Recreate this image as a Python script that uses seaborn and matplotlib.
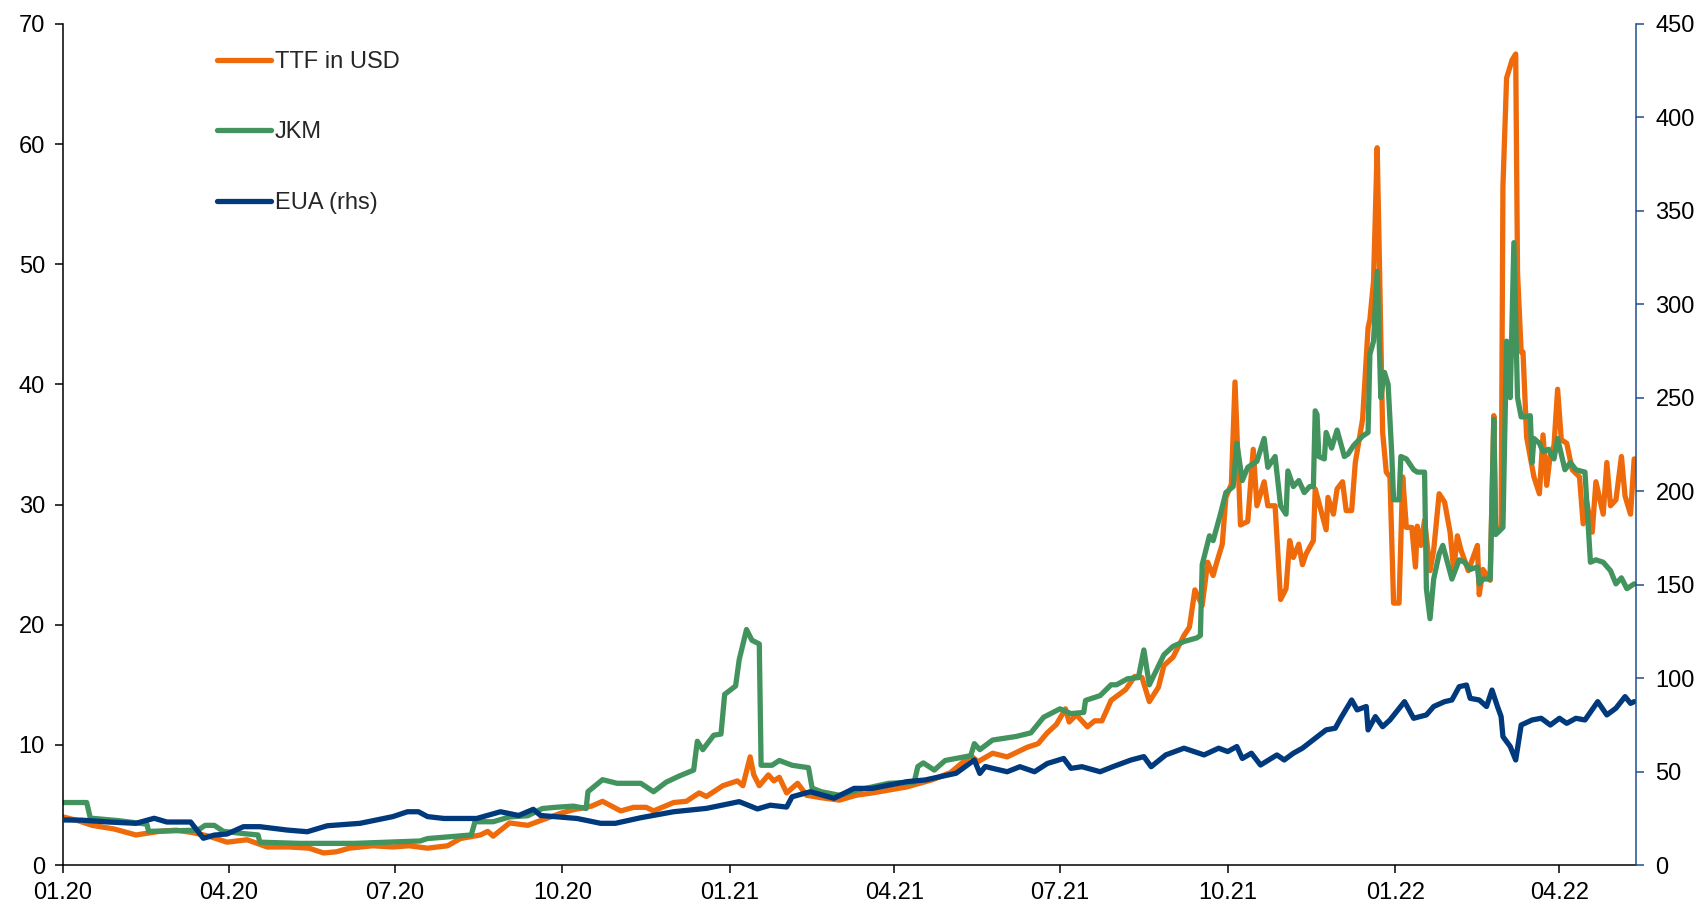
import numpy as np
import pandas as pd
import matplotlib
matplotlib.use("Agg")
import matplotlib.pyplot as plt
import seaborn as sns

# ---------------- data (days since 2020-01-01, values) ----------------
ttf_days = [0, 8, 16, 28, 40, 53, 62, 71, 80, 90, 101, 112, 124, 135, 143, 150, 157, 170, 181, 190,
            200, 211, 218, 229, 233, 236, 245, 255, 262, 273, 280, 290, 296, 306, 313, 320, 324, 335,
            342, 349, 353, 362, 370, 373, 377, 379, 382, 387, 390, 393, 397, 403, 408, 416, 426, 435,
            444, 463, 477, 487, 498, 502, 510, 518, 529, 535, 540, 545, 550, 552, 556, 562, 566, 570,
            575, 583, 588, 592, 596, 601, 604, 609, 615, 618, 621, 625, 628, 631, 633, 636, 638, 641,
            643, 646, 650, 653, 655, 659, 661, 665, 668, 671, 673, 675, 678, 680, 682, 686, 687, 693,
            694, 697, 699, 702, 704, 707, 709, 713, 716, 717, 719, 721, 722, 724, 726, 728, 730, 733,
            735, 737, 740, 742, 743, 745, 747, 750, 752, 755, 758, 761, 763, 765, 767, 771, 776, 777,
            779, 783, 785, 786, 789, 790, 792, 795, 797, 798, 800, 801, 803, 807, 810, 812, 814, 816,
            818, 820, 822, 825, 828, 832, 834, 836, 839, 841, 845, 847, 849, 852, 855, 857, 860, 862]
ttf_vals = [4.0, 3.7, 3.3, 3.0, 2.5, 2.8, 2.9, 2.7, 2.4, 1.9, 2.1, 1.5, 1.5, 1.4, 1.0, 1.1, 1.4, 1.6, 1.5, 1.6,
            1.4, 1.6, 2.2, 2.5, 2.8, 2.4, 3.5, 3.3, 3.7, 4.3, 4.6, 4.9, 5.3, 4.5, 4.8, 4.8, 4.5, 5.2,
            5.3, 6.0, 5.7, 6.6, 7.0, 6.6, 9.0, 7.5, 6.6, 7.5, 7.0, 7.3, 6.0, 6.8, 5.8, 5.6, 5.4, 5.8,
            6.0, 6.5, 7.1, 7.7, 9.1, 8.6, 9.3, 9.0, 9.8, 10.1, 11.0, 11.7, 13.0, 11.9, 12.5, 11.5, 12.0, 12.0,
            13.7, 14.6, 15.7, 15.6, 13.6, 14.8, 16.6, 17.3, 19.1, 19.8, 22.9, 21.6, 25.2, 24.1, 25.2, 26.7, 30.6, 31.7,
            40.2, 28.3, 28.6, 34.6, 29.9, 31.9, 29.9, 29.9, 22.1, 23.0, 27.0, 25.6, 26.7, 25.0, 25.9, 27.0, 31.3, 27.9,
            30.6, 29.2, 31.3, 31.9, 29.5, 29.5, 33.5, 37.1, 44.7, 45.4, 48.6, 59.7, 52.0, 36.0, 32.7, 32.3, 21.8, 21.8,
            32.3, 28.1, 28.1, 24.8, 28.2, 26.6, 28.7, 24.5, 26.2, 30.9, 30.2, 27.7, 24.5, 27.4, 26.2, 24.5, 26.6, 22.5,
            24.6, 23.7, 37.4, 27.7, 28.2, 56.5, 65.5, 67.0, 67.5, 49.3, 42.7, 42.7, 35.6, 32.3, 30.9, 35.8, 31.6, 34.2,
            34.9, 39.6, 35.4, 35.1, 32.9, 32.3, 28.4, 30.2, 27.7, 31.9, 29.2, 33.5, 29.9, 30.4, 34.0, 30.7, 29.2, 33.8]

jkm_days = [0, 13, 15, 30, 46, 47, 60, 74, 78, 83, 88, 100, 107, 108, 130, 160, 196, 200, 224, 226,
            236, 245, 255, 263, 270, 280, 287, 288, 296, 304, 317, 324, 331, 338, 346, 348, 351, 357,
            361, 363, 369, 371, 375, 378, 382, 383, 389, 393, 400, 409, 411, 416, 426, 435, 444, 453,
            467, 469, 472, 478, 484, 498, 500, 503, 510, 523, 531, 538, 547, 553, 560, 561, 569, 575,
            578, 584, 590, 593, 596, 604, 609, 615, 622, 624, 625, 629, 631, 635, 638, 642, 644, 647,
            650, 655, 659, 661, 665, 668, 671, 672, 675, 678, 681, 684, 686, 687, 688, 689, 692, 693,
            696, 699, 703, 705, 708, 713, 716, 717, 719, 721, 723, 725, 727, 729, 730, 733, 734, 737,
            741, 743, 747, 748, 750, 752, 755, 757, 759, 762, 766, 769, 772, 776, 777, 779, 783, 785,
            786, 790, 792, 794, 796, 798, 800, 802, 805, 806, 807, 810, 812, 815, 818, 820, 824, 827,
            830, 835, 838, 841, 845, 849, 852, 855, 858, 862]
jkm_vals = [5.2, 5.2, 3.9, 3.7, 3.4, 2.8, 2.85, 2.9, 3.3, 3.3, 2.8, 2.6, 2.5, 1.9, 1.8, 1.8, 2.0, 2.2, 2.5, 3.6,
            3.6, 4.0, 4.1, 4.7, 4.8, 4.9, 4.7, 6.1, 7.1, 6.8, 6.8, 6.1, 6.9, 7.4, 7.9, 10.3, 9.6, 10.8,
            10.9, 14.2, 14.9, 17.1, 19.6, 18.7, 18.4, 8.3, 8.3, 8.7, 8.3, 8.1, 6.4, 6.1, 5.8, 6.2, 6.5, 6.8,
            6.9, 8.2, 8.5, 7.9, 8.7, 9.1, 10.1, 9.6, 10.4, 10.7, 11.0, 12.3, 13.0, 12.6, 12.7, 13.7, 14.1, 15.0,
            15.0, 15.5, 15.6, 17.9, 15.0, 17.5, 18.2, 18.6, 18.9, 19.1, 25.0, 27.4, 27.0, 29.2, 31.0, 31.5, 35.1, 32.0,
            33.1, 33.6, 35.5, 33.1, 34.0, 29.9, 29.2, 32.8, 31.5, 32.0, 31.0, 31.5, 31.5, 37.8, 37.5, 34.0, 33.8, 36.0,
            34.7, 36.2, 34.0, 34.2, 34.9, 35.7, 36.0, 42.5, 43.6, 49.4, 38.9, 41.0, 40.0, 34.2, 30.4, 30.4, 34.0, 33.8,
            32.9, 32.7, 32.7, 23.0, 20.5, 23.8, 25.9, 26.6, 25.5, 23.8, 25.4, 25.2, 24.6, 24.8, 23.4, 23.8, 23.8, 37.1,
            27.5, 28.1, 43.6, 38.9, 51.8, 38.9, 37.3, 37.3, 37.4, 33.5, 35.5, 35.1, 34.4, 34.6, 33.8, 35.5, 32.9, 33.5,
            32.9, 32.7, 25.2, 25.4, 25.2, 24.5, 23.4, 23.9, 23.0, 23.4]

eua_days = [0, 10, 25, 40, 50, 57, 70, 77, 83, 90, 99, 108, 123, 134, 145, 163, 181, 189, 195, 200,
            209, 227, 240, 250, 258, 262, 282, 295, 303, 317, 335, 353, 371, 381, 388, 397, 400, 410,
            423, 434, 444, 463, 473, 490, 500, 503, 506, 511, 518, 525, 533, 540, 549, 553, 559, 569,
            576, 586, 593, 597, 605, 615, 626, 634, 639, 644, 647, 652, 657, 666, 670, 675, 680, 687,
            693, 698, 701, 707, 710, 715, 716, 720, 724, 728, 736, 741, 748, 752, 758, 762, 766, 770,
            772, 777, 781, 784, 787, 789, 790, 794, 797, 800, 806, 811, 816, 821, 825, 830, 835, 842,
            847, 852, 857, 860, 862]
eua_vals = [24.1, 24.0, 23.0, 22.3, 25.0, 23.0, 23.0, 14.3, 16.0, 16.6, 20.5, 20.5, 18.7, 17.8, 21.0, 22.3, 25.9, 28.5, 28.5, 25.9,
            24.9, 24.9, 28.5, 26.5, 29.8, 26.5, 24.9, 22.3, 22.3, 25.3, 28.5, 30.3, 33.9, 30.0, 32.0, 31.0, 36.5, 39.2,
            35.7, 41.0, 41.0, 44.6, 45.5, 49.1, 56.2, 49.0, 52.7, 51.5, 49.9, 52.6, 49.9, 54.3, 57.0, 51.7, 52.6, 49.9,
            52.6, 56.2, 58.0, 52.6, 58.9, 62.5, 58.9, 62.5, 60.7, 63.4, 57.0, 59.8, 53.5, 58.9, 56.2, 59.8, 62.5, 67.8,
            72.3, 73.2, 78.5, 88.3, 83.0, 84.8, 72.3, 79.4, 74.0, 77.6, 87.4, 78.5, 80.3, 84.8, 87.4, 88.3, 95.4, 96.3,
            89.2, 88.3, 84.8, 93.6, 84.8, 79.4, 68.7, 63.4, 56.2, 74.9, 77.6, 78.5, 74.9, 78.5, 75.8, 78.5, 77.6, 87.4,
            80.3, 83.9, 90.1, 86.5, 87.4]

tick_dates = ["2020-01-01", "2020-04-01", "2020-07-01", "2020-10-01", "2021-01-01",
              "2021-04-01", "2021-07-01", "2021-10-01", "2022-01-01", "2022-04-01"]
tick_labels = ["01.20", "04.20", "07.20", "10.20", "01.21", "04.21", "07.21", "10.21", "01.22", "04.22"]

# ---------------- build ----------------
base = pd.Timestamp("2020-01-01")
def to_dates(days):
    return base + pd.to_timedelta(days, unit="D")

c_ttf = "#EE6A0A"
c_jkm = "#43935E"
c_eua = "#003A7D"
c_raxis = "#1F4E8C"

sns.set_theme(style="white")
plt.rcParams["font.family"] = ["Liberation Sans", "DejaVu Sans"]
plt.rcParams["lines.solid_capstyle"] = "round"
plt.rcParams["lines.solid_joinstyle"] = "round"

fig = plt.figure(figsize=(16.98, 9.08), dpi=100)
ax = fig.add_axes([63 / 1698, 43 / 908, (1636 - 63) / 1698, (865 - 24) / 908])
ax2 = ax.twinx()

lw = 3.8
sns.lineplot(x=to_dates(ttf_days), y=ttf_vals, ax=ax, color=c_ttf, linewidth=lw, label="TTF in USD", legend=False)
sns.lineplot(x=to_dates(jkm_days), y=jkm_vals, ax=ax, color=c_jkm, linewidth=lw, label="JKM", legend=False)
sns.lineplot(x=to_dates(eua_days), y=eua_vals, ax=ax2, color=c_eua, linewidth=lw, label="EUA (rhs)", legend=False)

ax.set_xlim(base, base + pd.Timedelta(days=863))
ax.set_ylim(0, 70)
ax2.set_ylim(0, 450)
ax.set_yticks(np.arange(0, 71, 10))
ax2.set_yticks(np.arange(0, 451, 50))
ax.set_xticks(pd.to_datetime(tick_dates))
ax.set_xticklabels(tick_labels)

fs = 17
for a in (ax, ax2):
    a.set_xlabel("")
    a.set_ylabel("")
    a.grid(False)
    a.spines["top"].set_visible(False)

ax.spines["right"].set_visible(False)
ax.spines["left"].set_color("#000000")
ax.spines["bottom"].set_color("#000000")
ax.spines["left"].set_linewidth(1.1)
ax.spines["bottom"].set_linewidth(1.1)
ax2.spines["left"].set_visible(False)
ax2.spines["bottom"].set_visible(False)
ax2.spines["right"].set_color(c_raxis)
ax2.spines["right"].set_linewidth(1.1)

ax.tick_params(axis="both", which="both", direction="out", length=6, width=1.1,
               color="#000000", labelsize=fs, labelcolor="#000000", pad=7)
ax.tick_params(axis="y", left=True, right=False)
ax.tick_params(axis="x", bottom=True, top=False, pad=6)
ax2.tick_params(axis="y", direction="out", length=6, width=1.1, color=c_raxis,
                labelsize=fs, labelcolor="#000000", pad=8, right=True, left=False)

h1, l1 = ax.get_legend_handles_labels()
h2, l2 = ax2.get_legend_handles_labels()
leg = fig.legend(h1 + h2, l1 + l2, loc="upper left", bbox_to_anchor=(217 / 1698, 1 - 51 / 908),
                 frameon=False, fontsize=17, handlelength=2.3, handletextpad=0.15,
                 labelspacing=2.05, borderpad=0, borderaxespad=0)

fig.savefig("out.png", dpi=100)
